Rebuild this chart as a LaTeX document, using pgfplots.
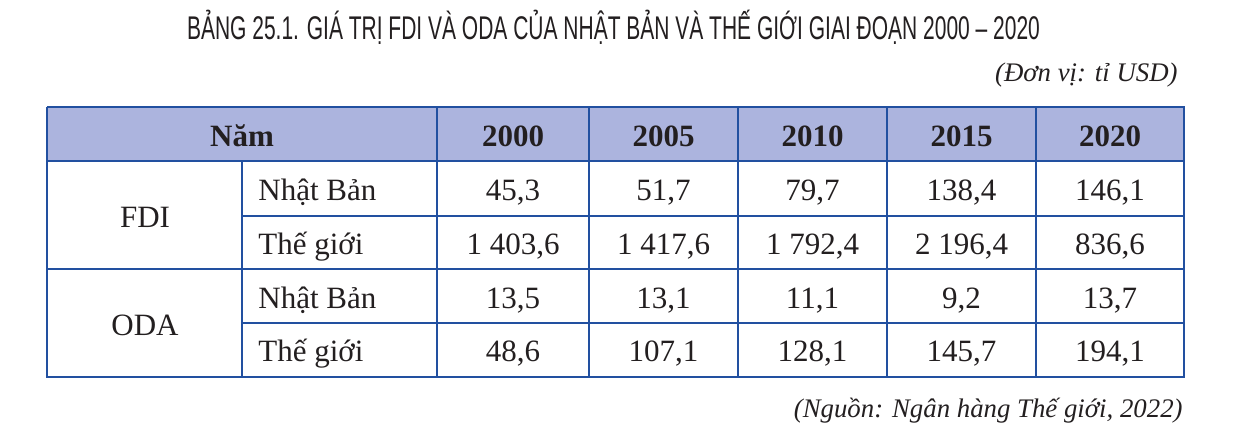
\documentclass[border=0pt]{standalone}
\usepackage{fontspec}
\setmainfont{Liberation Serif}
\newfontfamily\titlefont[FakeStretch=0.64]{Liberation Sans}
\usepackage{pgfplots}
\usepackage{pgfplotstable}
\pgfplotsset{compat=1.18}
\definecolor{rule}{RGB}{34,80,160}
\definecolor{headfill}{RGB}{172,180,222}
\definecolor{ink}{RGB}{35,31,32}

% giá trị (tỉ USD); xc = tâm cột (px)
\pgfplotstableread{
year xc     jpfdi  wfdi    jpoda  woda
2000 513    45.3   1403.6  13.5   48.6
2005 663.5  51.7   1417.6  13.1   107.1
2010 812.5  79.7   1792.4  11.1   128.1
2015 961.5  138.4  2196.4  9.2    145.7
2020 1110   146.1  836.6   13.7   194.1
}\fdioda

\begin{document}
\begin{tikzpicture}[font=\fontsize{15.5}{18}\selectfont]
\begin{axis}[
    scale only axis, width=619.5pt, height=220pt,
    xmin=0, xmax=1239, ymin=0, ymax=440, y dir=reverse,
    enlargelimits=false, hide axis, clip=false,
    /pgf/number format/assume math mode=true,
    tline/.style={draw=rule, line width=0.9pt, mark=none},
    oline/.style={draw=rule, line width=1.2pt, mark=none},
    cell/.style={draw=none, mark=none, nodes near coords, point meta=explicit,
      nodes near coords style={anchor=base, inner sep=0pt, text=ink,
        font=\fontsize{15.5}{18}\selectfont,
        /pgf/number format/.cd, fixed, fixed zerofill, precision=1,
        use comma, 1000 sep={\ }}},
    yearcell/.style={draw=none, mark=none, nodes near coords, point meta=explicit,
      nodes near coords style={anchor=base, inner sep=0pt, text=ink,
        font=\fontsize{15.5}{18}\selectfont\bfseries,
        /pgf/number format/.cd, fixed, precision=0, 1000 sep={}}},
]
% nền
\addplot[fill=white, draw=none] coordinates {(0,0) (1239,0) (1239,440) (0,440)};
% hàng tiêu đề
\addplot[fill=headfill, draw=none] coordinates {(47,107) (1184,107) (1184,161) (47,161)};

% đường kẻ ngang
\addplot[tline] coordinates {(47,161) (1184,161)};
\addplot[tline] coordinates {(242,216) (1184,216)};
\addplot[tline] coordinates {(47,269) (1184,269)};
\addplot[tline] coordinates {(242,323) (1184,323)};
% đường kẻ dọc
\addplot[tline] coordinates {(242,161) (242,377)};
\addplot[tline] coordinates {(437,107) (437,377)};
\addplot[tline] coordinates {(589,107) (589,377)};
\addplot[tline] coordinates {(738,107) (738,377)};
\addplot[tline] coordinates {(887,107) (887,377)};
\addplot[tline] coordinates {(1036,107) (1036,377)};
% khung ngoài
\addplot[oline] coordinates {(47,107) (1184,107) (1184,377) (47,377) (47,107)};

% số liệu
\addplot[yearcell] table[x=xc, y expr=146, meta=year] {\fdioda};
\addplot[cell] table[x=xc, y expr=200, meta=jpfdi] {\fdioda};
\addplot[cell] table[x=xc, y expr=254, meta=wfdi] {\fdioda};
\addplot[cell] table[x=xc, y expr=308, meta=jpoda] {\fdioda};
\addplot[cell] table[x=xc, y expr=361, meta=woda] {\fdioda};

% nhãn
\node[anchor=base, text=ink, font=\fontsize{15.5}{18}\selectfont\bfseries] at (axis cs:242,146) {Năm};
\node[anchor=base, text=ink] at (axis cs:145,227) {FDI};
\node[anchor=base, text=ink] at (axis cs:145,335) {ODA};
\node[anchor=base west, inner sep=0pt, text=ink] at (axis cs:258,200) {Nhật Bản};
\node[anchor=base west, inner sep=0pt, text=ink] at (axis cs:258,254) {Thế giới};
\node[anchor=base west, inner sep=0pt, text=ink] at (axis cs:258,308) {Nhật Bản};
\node[anchor=base west, inner sep=0pt, text=ink] at (axis cs:258,361) {Thế giới};

\node[anchor=base, inner sep=0pt, text=ink, font=\titlefont\fontsize{16.4}{19}\selectfont]
  at (axis cs:613.5,39) {BẢNG 25.1. GIÁ TRỊ FDI VÀ ODA CỦA NHẬT BẢN VÀ THẾ GIỚI GIAI ĐOẠN 2000 – 2020};
\node[anchor=base east, inner sep=0pt, text=ink, font=\fontsize{13.4}{16}\selectfont\itshape]
  at (axis cs:1178,81) {(Đơn vị: tỉ USD)};
\node[anchor=base east, inner sep=0pt, text=ink, font=\fontsize{13.4}{16}\selectfont\itshape]
  at (axis cs:1183,417) {(Nguồn: Ngân hàng Thế giới, 2022)};
\end{axis}
\end{tikzpicture}
\end{document}
